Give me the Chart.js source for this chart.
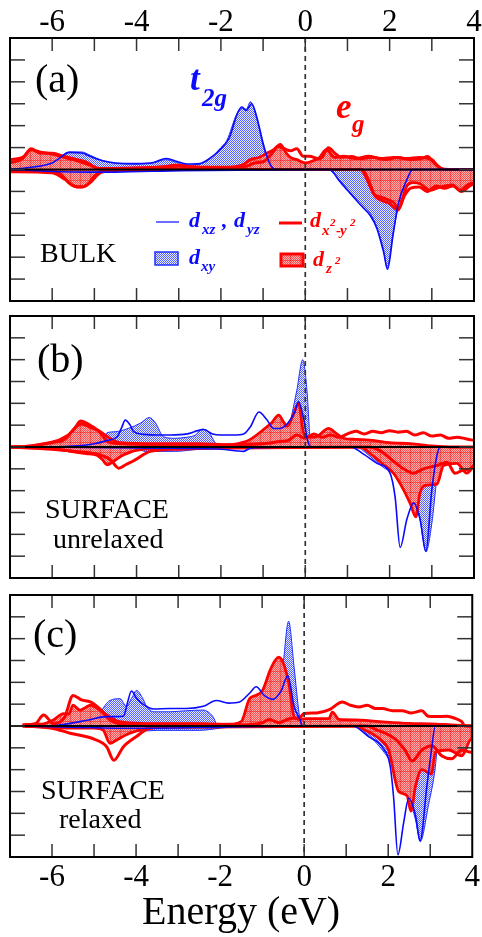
<!DOCTYPE html>
<html>
<head>
<meta charset="utf-8">
<script src="https://cdn.jsdelivr.net/npm/chart.js@4.4.1/dist/chart.umd.min.js"></script>
<style>
html, body { margin: 0; padding: 0; background: #fff; }
#wrap { position: relative; width: 482px; height: 937px; }
canvas { position: absolute; left: 0; }
</style>
</head>
<body>
<div id="wrap">
  <canvas id="chartA" width="482" height="305" style="top:0px"></canvas>
  <canvas id="chartB" width="482" height="270" style="top:312px"></canvas>
  <canvas id="chartC" width="482" height="346" style="top:591px"></canvas>
</div>
<script>
// energy axis
const energyMin = -7, energyMax = 4;
const energyLabels = [-6, -4, -2, 0, 2, 4];
const dosMin = -6, dosMax = 6;

// (a) BULK  -- [energy, dos], up spin > 0, down spin < 0
const aXyUp = [[-7,0.05],[-6.5,0.15],[-6,0.35],[-5.8,0.6],[-5.6,0.8],[-5.3,0.8],[-5.1,0.65],[-4.8,0.4],[-4.5,0.28],[-4,0.25],[-3.6,0.3],[-3.3,0.45],[-3.1,0.35],[-2.8,0.2],[-2.5,0.25],[-2.25,0.49],[-2.05,0.9],[-1.86,1.33],[-1.62,2.55],[-1.5,2.78],[-1.4,2.75],[-1.3,3.09],[-1.14,2.25],[-0.99,1.02],[-0.85,0.25],[-0.75,0.05],[-0.6,0],[4,0]];
const aXzUp = [[-7,0],[-6.5,0.1],[-6,0.3],[-5.8,0.55],[-5.6,0.78],[-5.3,0.75],[-5.1,0.6],[-4.8,0.4],[-4.5,0.3],[-4,0.27],[-3.6,0.32],[-3.3,0.5],[-3.1,0.4],[-2.8,0.25],[-2.5,0.27],[-2.2,0.6],[-2,0.95],[-1.8,1.45],[-1.6,2.6],[-1.5,2.85],[-1.4,2.7],[-1.27,3.0],[-1.15,2.4],[-1,1.2],[-0.85,0.3],[-0.7,0],[4,0]];
const aXyDn = [[-7,0],[-5.5,-0.05],[-4.5,-0.1],[-3,-0.05],[0.5,0],[0.6,-0.05],[0.8,-0.45],[1,-0.9],[1.3,-1.5],[1.54,-2.0],[1.7,-2.65],[1.86,-3.7],[1.94,-4.5],[2.09,-2.8],[2.21,-1.7],[2.41,-0.6],[2.6,-0.05],[2.7,0],[4,0]];
const aXzDn = [[-7,0],[-5.8,-0.1],[-4.5,-0.12],[-3,-0.05],[0.5,0],[0.62,-0.05],[0.8,-0.5],[1,-0.95],[1.3,-1.6],[1.54,-2.1],[1.7,-2.7],[1.86,-3.8],[1.95,-4.55],[2.08,-3.0],[2.2,-1.6],[2.4,-0.5],[2.55,0],[4,0]];
const aX2Up = [[-7,0.45],[-6.7,0.55],[-6.5,0.9],[-6.3,0.8],[-6,0.7],[-5.7,0.55],[-5.4,0.4],[-5.1,0.2],[-4.9,0.05],[-4.5,0.05],[-3.5,0.1],[-3,0.15],[-2.5,0.1],[-1.8,0.1],[-1.4,0.15],[-1.2,0.3],[-1,0.35],[-0.8,0.7],[-0.65,1.05],[-0.5,0.95],[-0.35,0.85],[-0.2,0.95],[-0.05,0.6],[0.1,0.6],[0.3,0.5],[0.5,0.9],[0.7,0.55],[0.9,0.6],[1.2,0.5],[1.5,0.6],[1.8,0.5],[2.1,0.55],[2.4,0.5],[2.7,0.55],[3,0.45],[3.15,0.15],[3.3,0],[4,0]];
const aX2Dn = [[-7,-0.1],[-6,-0.15],[-5.7,-0.45],[-5.5,-0.75],[-5.3,-0.8],[-5.1,-0.6],[-4.9,-0.2],[-4.6,-0.05],[-4,0],[1.35,0],[1.5,-0.5],[1.65,-1.2],[1.8,-1.4],[2,-1.55],[2.2,-1.85],[2.35,-1.2],[2.5,-0.85],[2.7,-0.8],[2.9,-1.0],[3.1,-0.75],[3.3,-0.85],[3.5,-0.75],[3.7,-1.0],[3.9,-0.75],[4,-0.65]];
const aZ2Up = [[-7,0.3],[-6.7,0.5],[-6.5,0.95],[-6.3,0.75],[-6,0.75],[-5.8,0.65],[-5.5,0.5],[-5.2,0.35],[-4.9,0.05],[-4.5,0.05],[-3.5,0.1],[-3.05,0.2],[-2.5,0.1],[-1.8,0.1],[-1.5,0.2],[-1.3,0.45],[-1.1,0.55],[-0.9,0.75],[-0.75,0.9],[-0.59,1.15],[-0.45,0.75],[-0.35,0.55],[-0.2,0.45],[0,0.3],[0.25,0.45],[0.4,0.55],[0.55,1.0],[0.7,0.75],[0.85,0.55],[1.1,0.6],[1.3,0.5],[1.6,0.55],[1.9,0.45],[2.2,0.55],[2.5,0.45],[2.75,0.5],[2.9,0.6],[3.05,0.3],[3.2,0.05],[3.4,0],[4,0]];
const aZ2Dn = [[-7,-0.1],[-6,-0.1],[-5.8,-0.2],[-5.6,-0.6],[-5.4,-0.8],[-5.2,-0.75],[-5,-0.3],[-4.8,-0.05],[-4,0],[1.3,0],[1.4,-0.2],[1.62,-1.1],[1.78,-1.25],[2.09,-1.5],[2.21,-1.75],[2.41,-0.75],[2.55,-0.6],[2.72,-0.65],[2.96,-0.95],[3.2,-0.8],[3.5,-0.7],[3.67,-0.95],[3.85,-0.7],[4,-0.6]];

// (b) SURFACE unrelaxed
const bXyUp = [[-7,0],[-5,0],[-4.8,0.3],[-4.7,0.65],[-4.5,0.7],[-4.2,0.85],[-3.9,1.1],[-3.7,1.35],[-3.55,1.1],[-3.36,0.47],[-3.1,0.4],[-2.8,0.45],[-2.6,0.55],[-2.45,0.82],[-2.3,0.7],[-2.1,0.1],[-2,0],[-0.6,0],[-0.45,0.3],[-0.36,1.1],[-0.2,2.6],[-0.06,4.0],[0.04,2.6],[0.12,0.3],[0.2,0],[4,0]];
const bXzUp = [[-7,0],[-6,0],[-5.4,0.05],[-5,0.15],[-4.7,0.3],[-4.46,0.47],[-4.35,0.9],[-4.27,1.23],[-4.15,1.0],[-4.07,0.7],[-3.83,0.58],[-3.5,0.55],[-3.2,0.55],[-2.8,0.6],[-2.55,0.75],[-2.41,0.8],[-2.2,0.6],[-2,0.55],[-1.7,0.55],[-1.46,0.6],[-1.3,0.93],[-1.1,1.6],[-0.91,1.25],[-0.75,0.85],[-0.6,0.85],[-0.43,1.05],[-0.25,1.6],[-0.16,2.07],[-0.05,1.4],[0.07,0.2],[0.15,0],[4,0]];
const bXyDn = [[-7,0],[-4,-0.05],[-3.8,-0.2],[-3.1,-0.2],[-2.5,-0.1],[-1.5,0],[1.2,0],[1.46,-0.3],[1.7,-0.7],[1.86,-0.95],[2.09,-1.2],[2.3,-1.5],[2.49,-1.8],[2.62,-2.5],[2.72,-3.3],[2.86,-4.8],[3,-3.5],[3.12,-1.4],[3.2,-0.3],[3.3,0],[4,0]];
const bXzDn = [[-7,0],[-3.5,-0.05],[-2,-0.1],[-1.46,-0.2],[-1.3,-0.05],[0,0],[1.07,0],[1.4,-0.35],[1.7,-0.75],[2.01,-1.2],[2.13,-2.3],[2.25,-4.6],[2.41,-3.3],[2.57,-2.57],[2.72,-3.3],[2.86,-4.78],[3,-1.96],[3.12,-0.4],[3.2,0],[4,0]];
const bX2Up = [[-7,0],[-6.5,0.05],[-6,0.2],[-5.7,0.35],[-5.45,0.9],[-5.3,1.05],[-5.1,0.9],[-4.9,0.75],[-4.75,0.55],[-4.6,0.35],[-4.4,0.2],[-3.5,0.15],[-2.5,0.15],[-1.8,0.1],[-1,0.15],[-0.6,0.25],[-0.4,0.3],[-0.2,0.55],[0,0.4],[0.2,0.6],[0.4,0.45],[0.6,0.55],[0.8,0.45],[1,0.6],[1.2,0.72],[1.4,0.6],[1.6,0.72],[1.8,0.65],[2,0.75],[2.2,0.68],[2.4,0.72],[2.6,0.55],[2.8,0.65],[3,0.5],[3.2,0.55],[3.4,0.4],[3.6,0.45],[3.8,0.38],[4,0.3]];
const bX2Dn = [[-7,0],[-6,-0.1],[-5.5,-0.2],[-5,-0.3],[-4.62,-0.58],[-4.42,-0.97],[-4.25,-0.8],[-4.07,-0.63],[-3.67,-0.2],[-3,-0.1],[-2,-0.05],[1.5,0],[1.8,-0.2],[2.01,-0.52],[2.33,-1.0],[2.57,-1.2],[2.8,-1.0],[3.12,-0.85],[3.36,-0.7],[3.55,-1.2],[3.75,-1.05],[3.91,-1.0],[4,-0.85]];
const bZ2Up = [[-7,0],[-6.5,0.05],[-6.2,0.15],[-5.8,0.35],[-5.5,0.75],[-5.33,1.2],[-5.1,1.0],[-4.94,0.8],[-4.8,0.5],[-4.7,0.26],[-4.4,0.15],[-3.5,0.1],[-2.5,0.1],[-1.8,0.1],[-1.5,0.2],[-1.3,0.35],[-0.99,0.8],[-0.8,1.1],[-0.63,1.46],[-0.5,1.1],[-0.43,0.95],[-0.3,1.4],[-0.16,2.0],[-0.04,0.65],[0.1,0.45],[0.3,0.5],[0.45,0.75],[0.55,0.85],[0.75,0.6],[0.9,0.4],[1.2,0.35],[1.6,0.3],[2,0.2],[2.5,0.15],[3,0.05],[3.5,0],[4,0]];
const bZ2Dn = [[-7,0],[-6,-0.05],[-5.57,-0.2],[-5.2,-0.3],[-4.94,-0.37],[-4.8,-0.6],[-4.7,-0.82],[-4.54,-0.65],[-4.3,-0.35],[-3.83,-0.1],[-3,-0.05],[1.3,0],[1.6,-0.4],[1.85,-0.8],[2.09,-1.2],[2.33,-1.96],[2.49,-2.6],[2.62,-3.2],[2.72,-2.1],[2.88,-1.75],[3.12,-1.7],[3.28,-0.85],[3.59,-0.75],[3.83,-1.2],[4,-0.85]];

// (c) SURFACE relaxed
const cXyUp = [[-6.7,0],[-5,0],[-4.86,0.57],[-4.62,1.17],[-4.38,1.25],[-4.23,0.9],[-4.1,1.3],[-3.99,1.63],[-3.85,1.3],[-3.75,0.9],[-3.59,0.65],[-3.2,0.65],[-2.8,0.7],[-2.41,0.73],[-2.17,0.43],[-2.05,0],[-0.9,0],[-0.7,0.5],[-0.51,2.7],[-0.37,4.8],[-0.24,2.7],[-0.12,0.57],[-0.05,0],[4,0]];
const cXzUp = [[-6.7,0],[-6,0],[-5.8,0.05],[-5.2,0.25],[-4.7,0.43],[-4.3,0.45],[-4.2,1.1],[-4.11,1.6],[-4,1.3],[-3.87,1.05],[-3.59,0.78],[-3.2,0.8],[-2.8,0.8],[-2.4,0.9],[-2.09,1.17],[-1.8,1.05],[-1.54,1.1],[-1.3,1.5],[-1.14,1.8],[-0.95,1.4],[-0.75,1.22],[-0.55,1.6],[-0.39,2.3],[-0.24,0.9],[-0.1,0.3],[-0.04,0],[4,0]];
const cXyDn = [[-6.7,0],[-4.5,-0.05],[-4,-0.25],[-3.5,-0.2],[-2.5,-0.2],[-2,-0.1],[-1.5,0],[1.2,0],[1.46,-0.3],[1.86,-1.1],[2.17,-2.0],[2.49,-3.3],[2.65,-4.3],[2.76,-5.3],[2.96,-3.6],[3.12,-1.9],[3.2,-0.3],[3.3,0],[4,0]];
const cXzDn = [[-6.7,0],[-5.5,-0.05],[-4.5,-0.1],[-3.5,-0.1],[-2,-0.05],[0,0],[1.15,0],[1.54,-0.5],[1.86,-0.96],[2.05,-1.87],[2.13,-3.3],[2.23,-5.9],[2.37,-4.4],[2.49,-3.3],[2.65,-4.1],[2.76,-5.25],[2.92,-2.75],[3.03,-1.1],[3.12,0],[4,0]];
const cX2Up = [[-6.7,0.05],[-6.4,0.1],[-6.2,0.5],[-5.96,0.1],[-5.7,0.4],[-5.5,1.4],[-5.3,1.2],[-5.09,1.1],[-4.9,0.85],[-4.7,0.5],[-4.4,0.2],[-3.5,0.1],[-2.5,0.1],[-1.5,0.05],[-1,0.15],[-0.83,0.3],[-0.6,0.15],[-0.4,0.3],[-0.28,0.35],[-0.1,0.4],[0,0.57],[0.3,0.6],[0.6,0.75],[0.91,1.1],[1.1,0.95],[1.3,0.87],[1.5,0.95],[1.7,0.8],[1.86,0.8],[2.1,0.7],[2.33,0.7],[2.55,0.6],[2.8,0.7],[2.95,0.45],[3.12,0.43],[3.4,0.45],[3.59,0.35],[3.75,0.2],[3.83,0],[4,0]];
const cX2Dn = [[-6.7,0],[-6,-0.1],[-5.57,-0.33],[-5,-0.6],[-4.7,-0.95],[-4.53,-1.57],[-4.3,-0.95],[-3.99,-0.48],[-3.67,-0.1],[-3,-0.05],[1.5,0],[1.7,-0.15],[2.17,-0.6],[2.4,-1.1],[2.57,-1.6],[2.8,-1.1],[3.04,-0.9],[3.28,-1.37],[3.51,-1.5],[3.75,-1.1],[3.98,-1.2],[4,-1.2]];
const cZ2Up = [[-6.7,0.05],[-6.4,0.08],[-6.2,0.1],[-5.95,0.3],[-5.73,0.57],[-5.6,0.55],[-5.5,0.95],[-5.33,0.73],[-5.2,0.85],[-5.09,0.95],[-4.86,0.73],[-4.62,0.27],[-4.4,0.1],[-3.5,0.05],[-2.5,0.05],[-1.8,0.08],[-1.5,0.2],[-1.3,1.25],[-1.15,1.4],[-0.99,1.63],[-0.8,2.6],[-0.61,3.15],[-0.5,2.9],[-0.36,1.9],[-0.24,0.43],[-0.1,0.3],[0.04,0.34],[0.3,0.34],[0.59,0.34],[0.67,0.64],[0.83,0.3],[1.2,0.28],[1.8,0.2],[2.5,0.12],[3,0.1],[3.5,0.05],[4,0]];
const cZ2Dn = [[-6.7,0],[-5.5,-0.1],[-5,-0.1],[-4.78,-0.2],[-4.62,-0.8],[-4.46,-0.64],[-4.15,-0.33],[-3.67,-0.1],[-3,-0.05],[1.2,0],[1.46,-0.2],[1.8,-0.6],[2.01,-1.1],[2.25,-3.0],[2.45,-3.2],[2.54,-3.9],[2.65,-2.75],[2.8,-2.0],[3.03,-2.2],[3.12,-1.2],[3.44,-1.1],[3.75,-1.37],[3.98,-0.6],[4,-0.6]];

const SERIF = '"Liberation Serif", "Times New Roman", serif';
const BLUE = '#0a0aff';
const RED = '#ff0000';

// fill patterns
function makePattern(size, paint) {
    const tile = document.createElement('canvas');
    tile.width = size; tile.height = size;
    const t = tile.getContext('2d');
    paint(t);
    return t.createPattern(tile, 'repeat');
}
const bluePat = makePattern(2, t => {
    t.fillStyle = '#e8eaff'; t.fillRect(0, 0, 2, 2);
    t.fillStyle = '#5561ff'; t.fillRect(0, 0, 1, 1); t.fillRect(1, 1, 1, 1);
});
const redPat = makePattern(10, t => {
    for (let i = 0; i < 10; i++) for (let j = 0; j < 10; j++) {
        t.fillStyle = (i + j) % 2 ? '#ffb0b0' : '#ff5050';
        t.fillRect(i, j, 1, 1);
    }
    t.fillStyle = 'rgba(235,20,20,0.45)';
    t.fillRect(0, 0, 10, 1); t.fillRect(0, 0, 1, 10);
});

const pts = arr => arr.map(([x, y]) => ({x, y}));

function panelDatasets(p) {
    const base = {pointRadius: 0, cubicInterpolationMode: 'monotone', borderJoinStyle: 'round'};
    return [
        {...base, data: pts(p.xzUp), borderColor: BLUE, borderWidth: 1.6, fill: false},
        {...base, data: pts(p.xzDn), borderColor: BLUE, borderWidth: 1.6, fill: false},
        {...base, data: pts(p.x2Up), borderColor: RED, borderWidth: 3, fill: false},
        {...base, data: pts(p.x2Dn), borderColor: RED, borderWidth: 3, fill: false},
        {...base, data: pts(p.z2Up), borderColor: RED, borderWidth: 2.8, backgroundColor: redPat, fill: 'origin'},
        {...base, data: pts(p.z2Dn), borderColor: RED, borderWidth: 2.8, backgroundColor: redPat, fill: 'origin'},
        {...base, data: pts(p.xyUp), borderColor: '#2030ff', borderWidth: 1, backgroundColor: bluePat, fill: 'origin'},
        {...base, data: pts(p.xyDn), borderColor: '#2030ff', borderWidth: 1, backgroundColor: bluePat, fill: 'origin'}
    ];
}

function line(ctx, x1, y1, x2, y2) {
    ctx.beginPath(); ctx.moveTo(x1, y1); ctx.lineTo(x2, y2); ctx.stroke();
}

// frame, inside ticks, zero line, Fermi level
const framePlugin = {
    id: 'frame',
    afterDatasetsDraw(chart) {
        const {ctx, chartArea: a, scales: {x, y}} = chart;
        ctx.save();
        const y0 = y.getPixelForValue(0);
        ctx.strokeStyle = '#000'; ctx.lineWidth = 2;
        line(ctx, a.left, y0, a.right, y0);
        const x0 = x.getPixelForValue(0);
        ctx.setLineDash([5, 4]); ctx.strokeStyle = '#333'; ctx.lineWidth = 1.7;
        line(ctx, x0, a.top, x0, a.bottom);
        ctx.setLineDash([]);
        ctx.strokeStyle = '#333'; ctx.lineWidth = 1.5;
        for (let v = energyMin + 1; v < energyMax; v++) {
            const px = x.getPixelForValue(v);
            line(ctx, px, a.top, px, a.top + 13);
            line(ctx, px, a.bottom, px, a.bottom - 13);
        }
        for (let v = dosMin + 1; v < dosMax; v++) {
            const py = y.getPixelForValue(v);
            line(ctx, a.left, py, a.left + 15, py);
            line(ctx, a.right, py, a.right - 15, py);
        }
        ctx.strokeStyle = '#000'; ctx.lineWidth = 2;
        ctx.strokeRect(a.left, a.top, a.right - a.left, a.bottom - a.top);
        ctx.restore();
    }
};

function txt(ctx, s, x, y, size, color, style) {
    ctx.font = `${style || ''} ${size}px ${SERIF}`;
    ctx.fillStyle = color;
    ctx.fillText(s, x, y);
}

function notesPlugin(draw) {
    return {id: 'notes', afterDraw(chart) { const ctx = chart.ctx; ctx.save(); ctx.textBaseline = 'alphabetic'; draw(ctx); ctx.restore(); }};
}

function makeChart(id, p, opts) {
    const xScale = {
        type: 'linear', min: energyMin, max: energyMax,
        display: opts.xDisplay, position: opts.xPos || 'bottom',
        grid: {display: false, drawTicks: false}, border: {display: false},
        ticks: {
            stepSize: 1, autoSkip: false, maxRotation: 0, padding: opts.tickPad || 0, color: '#000',
            font: {family: SERIF, size: 31},
            callback: v => energyLabels.includes(v) ? String(v) : ''
        },
        title: opts.title ? {display: true, text: opts.title, color: '#000', font: {family: SERIF, size: 40}, padding: {top: 0, bottom: 0}} : {display: false},
        afterFit: s => { if (opts.xHeight) s.height = opts.xHeight; }
    };
    return new Chart(document.getElementById(id), {
        type: 'line',
        data: {datasets: panelDatasets(p)},
        options: {
            responsive: false, animation: false, devicePixelRatio: 1,
            layout: {padding: opts.padding},
            plugins: {legend: {display: false}, tooltip: {enabled: false}},
            scales: {
                x: xScale,
                y: {type: 'linear', min: dosMin, max: dosMax, display: false}
            }
        },
        plugins: [framePlugin, notesPlugin(opts.notes)]
    });
}

makeChart('chartA', {xyUp: aXyUp, xyDn: aXyDn, xzUp: aXzUp, xzDn: aXzDn, x2Up: aX2Up, x2Dn: aX2Dn, z2Up: aZ2Up, z2Dn: aZ2Dn}, {
    xDisplay: true, xPos: 'top', xHeight: 38, tickPad: -3,
    padding: {left: 10, right: 8, top: 0, bottom: 4},
    notes: ctx => {
        txt(ctx, '(a)', 35, 92, 40, '#000');
        txt(ctx, 'BULK', 40, 262, 28, '#000');
        txt(ctx, 't', 190, 90, 35, BLUE, 'italic bold');
        txt(ctx, '2g', 202, 106, 25, BLUE, 'italic bold');
        txt(ctx, 'e', 336, 118, 35, RED, 'italic bold');
        txt(ctx, 'g', 352, 132, 25, RED, 'italic bold');
        // legend
        ctx.strokeStyle = '#3b3bff'; ctx.lineWidth = 1.5;
        line(ctx, 156, 222, 179, 222);
        txt(ctx, 'd', 189, 227, 22, BLUE, 'italic bold');
        txt(ctx, 'xz', 202, 234, 15, BLUE, 'italic bold');
        txt(ctx, ',', 222, 227, 22, BLUE, 'italic bold');
        txt(ctx, 'd', 234, 227, 22, BLUE, 'italic bold');
        txt(ctx, 'yz', 247, 234, 15, BLUE, 'italic bold');
        ctx.strokeStyle = RED; ctx.lineWidth = 3;
        line(ctx, 279, 223, 302, 223);
        txt(ctx, 'd', 310, 227, 22, RED, 'italic bold');
        txt(ctx, 'x', 322, 235, 15, RED, 'italic bold');
        txt(ctx, '2', 330, 226, 11, RED, 'italic bold');
        txt(ctx, '-', 336, 235, 15, RED, 'italic bold');
        txt(ctx, 'y', 340, 235, 15, RED, 'italic bold');
        txt(ctx, '2', 350, 226, 11, RED, 'italic bold');
        ctx.fillStyle = bluePat; ctx.fillRect(155, 252, 23, 13);
        ctx.strokeStyle = '#2030ff'; ctx.lineWidth = 1.5; ctx.strokeRect(155, 252, 23, 13);
        txt(ctx, 'd', 189, 264, 22, BLUE, 'italic bold');
        txt(ctx, 'xy', 201, 271, 15, BLUE, 'italic bold');
        ctx.fillStyle = redPat; ctx.fillRect(281, 254, 22, 12);
        ctx.strokeStyle = RED; ctx.lineWidth = 3; ctx.strokeRect(281, 254, 22, 12);
        txt(ctx, 'd', 313, 266, 22, RED, 'italic bold');
        txt(ctx, 'z', 326, 273, 15, RED, 'italic bold');
        txt(ctx, '2', 335, 264, 11, RED, 'italic bold');
    }
});

makeChart('chartB', {xyUp: bXyUp, xyDn: bXyDn, xzUp: bXzUp, xzDn: bXzDn, x2Up: bX2Up, x2Dn: bX2Dn, z2Up: bZ2Up, z2Dn: bZ2Dn}, {
    xDisplay: false,
    padding: {left: 10, right: 8, top: 4, bottom: 4},
    notes: ctx => {
        txt(ctx, '(b)', 37, 60, 40, '#000');
        txt(ctx, 'SURFACE', 45, 206, 28, '#000');
        txt(ctx, 'unrelaxed', 53, 236, 28, '#000');
    }
});

makeChart('chartC', {xyUp: cXyUp, xyDn: cXyDn, xzUp: cXzUp, xzDn: cXzDn, x2Up: cX2Up, x2Dn: cX2Dn, z2Up: cZ2Up, z2Dn: cZ2Dn}, {
    xDisplay: true, xPos: 'bottom', xHeight: 80, tickPad: 2, title: 'Energy (eV)',
    padding: {left: 10, right: 8, top: 4, bottom: 0},
    notes: ctx => {
        txt(ctx, '(c)', 33, 56, 40, '#000');
        txt(ctx, 'SURFACE', 41, 208, 28, '#000');
        txt(ctx, 'relaxed', 59, 237, 28, '#000');
    }
});
</script>
</body>
</html>
